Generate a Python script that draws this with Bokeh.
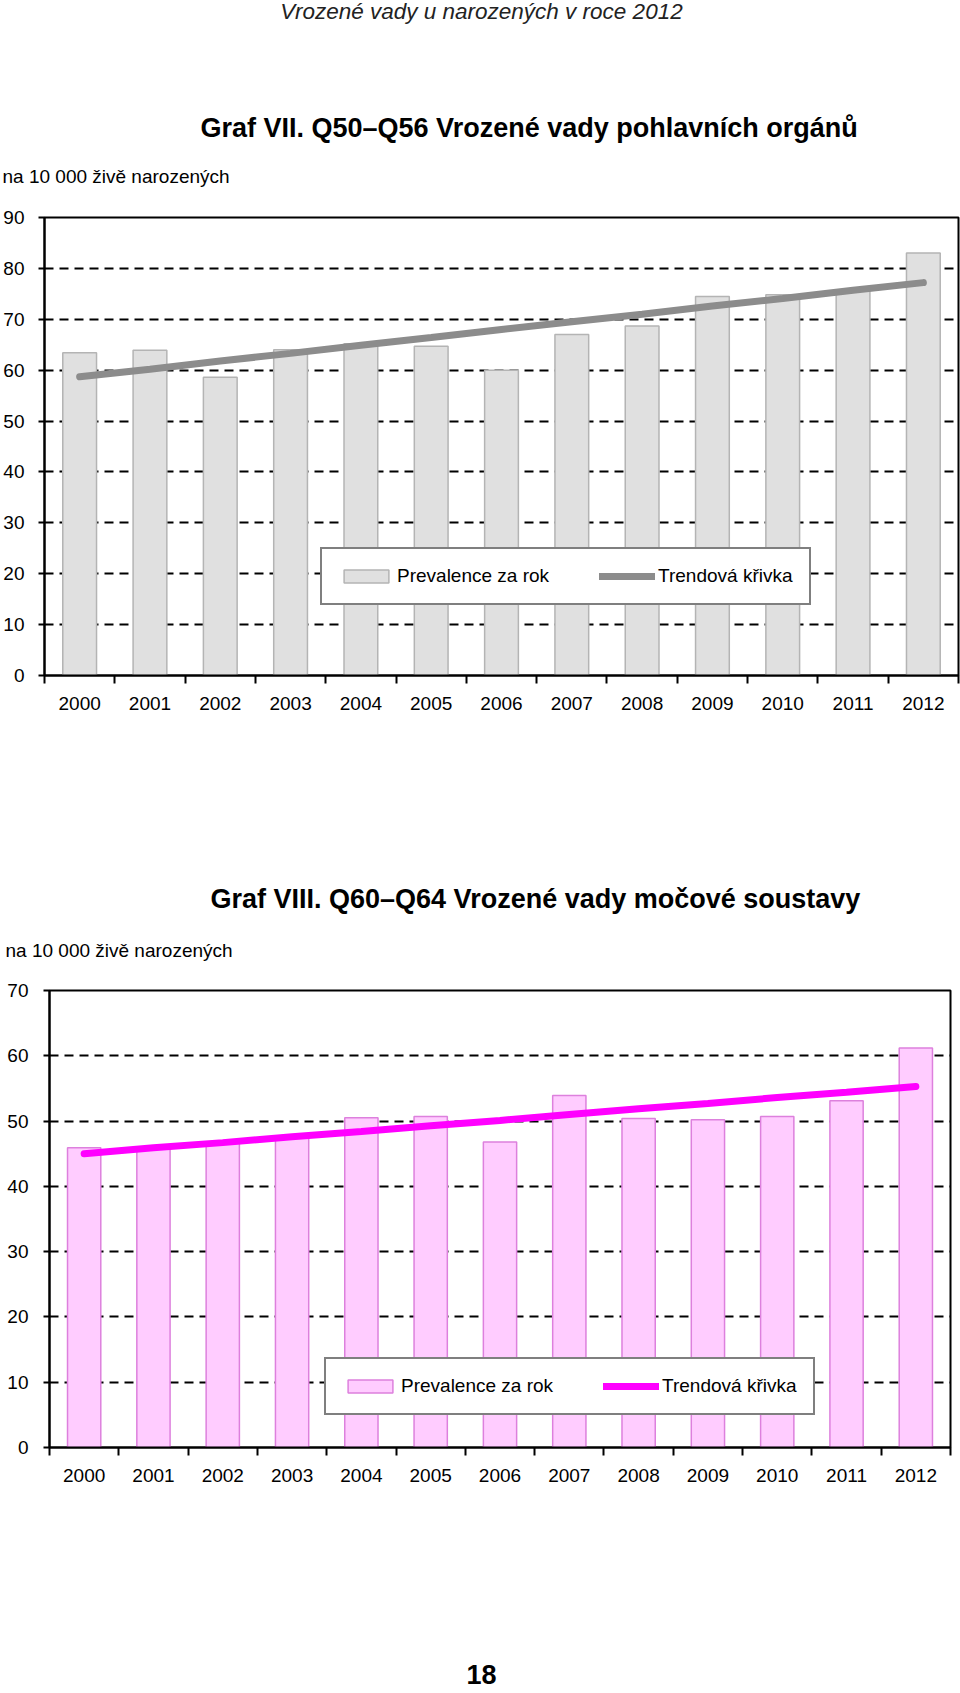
from bokeh.plotting import figure
from bokeh.layouts import column
from bokeh.models import FixedTicker, Legend, LegendItem
from bokeh.core.properties import value
from bokeh.embed import file_html
from bokeh.resources import INLINE

# ---------------- data ----------------
years = [2000, 2001, 2002, 2003, 2004, 2005, 2006, 2007, 2008, 2009, 2010, 2011, 2012]
year_labels = [str(y) for y in years]

prev_gen = [63.4, 63.9, 58.6, 64.0, 65.2, 64.7, 60.0, 67.0, 68.7, 74.5, 74.8, 75.6, 83.0]
trend_gen = [58.7, 60.2, 61.8, 63.3, 64.9, 66.4, 68.0, 69.5, 71.0, 72.6, 74.1, 75.7, 77.2]

prev_uri = [45.9, 46.0, 46.7, 47.6, 50.5, 50.7, 46.8, 53.9, 50.4, 50.2, 50.7, 53.1, 61.2]
trend_uri = [45.0, 45.9, 46.7, 47.6, 48.4, 49.3, 50.1, 51.0, 51.9, 52.7, 53.6, 54.4, 55.3]

y_ticks_gen = [0, 10, 20, 30, 40, 50, 60, 70, 80, 90]
y_ticks_uri = [0, 10, 20, 30, 40, 50, 60, 70]

header = "Vrozené vady u narozených v roce 2012"
title_gen = "Graf VII. Q50–Q56 Vrozené vady pohlavních orgánů"
title_uri = "Graf VIII. Q60–Q64 Vrozené vady močové soustavy"
unit_label = "na 10 000 živě narozených"
legend_bar = "Prevalence za rok"
legend_line = "Trendová křivka"
page_no = "18"

FONT = "Liberation Sans"
W = 960


def text_fig(H, items):
    """A blank strip of the page holding free text (title, notes)."""
    p = figure(width=W, height=H, output_backend="svg", toolbar_location=None,
               x_range=(0, W), y_range=(H, 0),
               min_border_left=0, min_border_right=0,
               min_border_top=0, min_border_bottom=0,
               x_axis_location=None, y_axis_location=None)
    p.frame_align = False
    p.outline_line_color = None
    p.grid.visible = False
    p.background_fill_color = "white"
    p.border_fill_color = "white"
    for (tx, ty, txt, size, style, align, color) in items:
        p.text(x=[tx], y=[ty], text=[txt], text_font=value(FONT),
               text_font_size=size, text_font_style=style, text_align=align,
               text_baseline="middle", text_color=color)
    return p


def make_chart(H, top, bottom, left, right, ymax, yticks, prev, trend,
               fill, edge, tcolor, legend_xy, ystandoff):
    p = figure(width=W, height=H, output_backend="svg", toolbar_location=None,
               x_range=(years[0] - 0.5, years[-1] + 0.5), y_range=(0, ymax),
               min_border_top=top, min_border_bottom=bottom,
               min_border_left=left, min_border_right=right)
    p.frame_align = False
    p.background_fill_color = "white"
    p.border_fill_color = "white"
    p.outline_line_color = "black"
    p.outline_line_width = 2

    p.xgrid.grid_line_color = None
    p.ygrid.grid_line_color = "black"
    p.ygrid.grid_line_width = 2
    p.ygrid.grid_line_dash = "9 6"
    p.ygrid.ticker = FixedTicker(ticks=yticks)

    ya = p.yaxis[0]
    ya.ticker = FixedTicker(ticks=yticks)
    ya.axis_line_color = "black"
    ya.axis_line_width = 2
    ya.major_tick_line_color = "black"
    ya.major_tick_line_width = 2
    ya.major_tick_in = 0
    ya.major_tick_out = 6
    ya.minor_tick_line_color = None
    ya.major_label_text_font = FONT
    ya.major_label_text_font_size = "19px"
    ya.major_label_text_color = "black"
    ya.major_label_standoff = ystandoff

    xa = p.xaxis[0]
    bounds = [y - 0.5 for y in years] + [years[-1] + 0.5]
    xa.ticker = FixedTicker(ticks=years, minor_ticks=bounds)
    xa.major_label_overrides = {y: l for y, l in zip(years, year_labels)}
    xa.axis_line_color = "black"
    xa.axis_line_width = 2
    xa.major_tick_line_color = None
    xa.major_tick_in = 0
    xa.major_tick_out = 0
    xa.minor_tick_line_color = "black"
    xa.minor_tick_line_width = 2
    xa.minor_tick_in = 0
    xa.minor_tick_out = 8
    xa.major_label_text_font = FONT
    xa.major_label_text_font_size = "19px"
    xa.major_label_text_color = "black"
    xa.major_label_standoff = 13

    bars = p.vbar(x=years, top=prev, width=0.48, bottom=0,
                  fill_color=fill, line_color=edge, line_width=1.5)
    line = p.line(x=years, y=trend, line_color=tcolor, line_width=7,
                  line_cap="round")

    leg = Legend(items=[LegendItem(label=legend_bar, renderers=[bars]),
                        LegendItem(label=legend_line, renderers=[line])],
                 orientation="horizontal", location=legend_xy)
    leg.border_line_color = "black"
    leg.border_line_width = 2
    leg.background_fill_color = "white"
    leg.background_fill_alpha = 1
    leg.label_text_font = FONT
    leg.label_text_font_size = "19px"
    leg.label_text_color = "black"
    leg.glyph_width = 56
    leg.glyph_height = 16
    leg.label_standoff = 3
    leg.label_width = 20
    leg.spacing = 50
    leg.padding = 16
    leg.margin = 0
    p.add_layout(leg, "center")
    return p


top_text = text_fig(203, [
    (481, 11, header, "22.5px", "italic", "center", "#222222"),
    (200, 127, title_gen, "27px", "bold", "left", "black"),
    (2, 176, unit_label, "19px", "normal", "left", "black"),
])

p1 = make_chart(552, 14, 80, 43, 2, 90, y_ticks_gen, prev_gen, trend_gen,
                "#e0e0e0", "#b4b4b4", "#8c8c8c", (276, 70), 14)

mid_text = text_fig(220, [
    (210, 143, title_uri, "27px", "bold", "left", "black"),
    (5, 195, unit_label, "19px", "normal", "left", "black"),
])

p2 = make_chart(552, 15, 80, 49, 10, 70, y_ticks_uri, prev_uri, trend_uri,
                "#ffccff", "#dd80dd", "#ff00ff", (275, 32), 15)

bottom_text = text_fig(165, [
    (481, 147, page_no, "27px", "bold", "center", "black"),
])

layout = column(top_text, p1, mid_text, p2, bottom_text, spacing=0)
open("out.html", "w").write(file_html(layout, INLINE))
